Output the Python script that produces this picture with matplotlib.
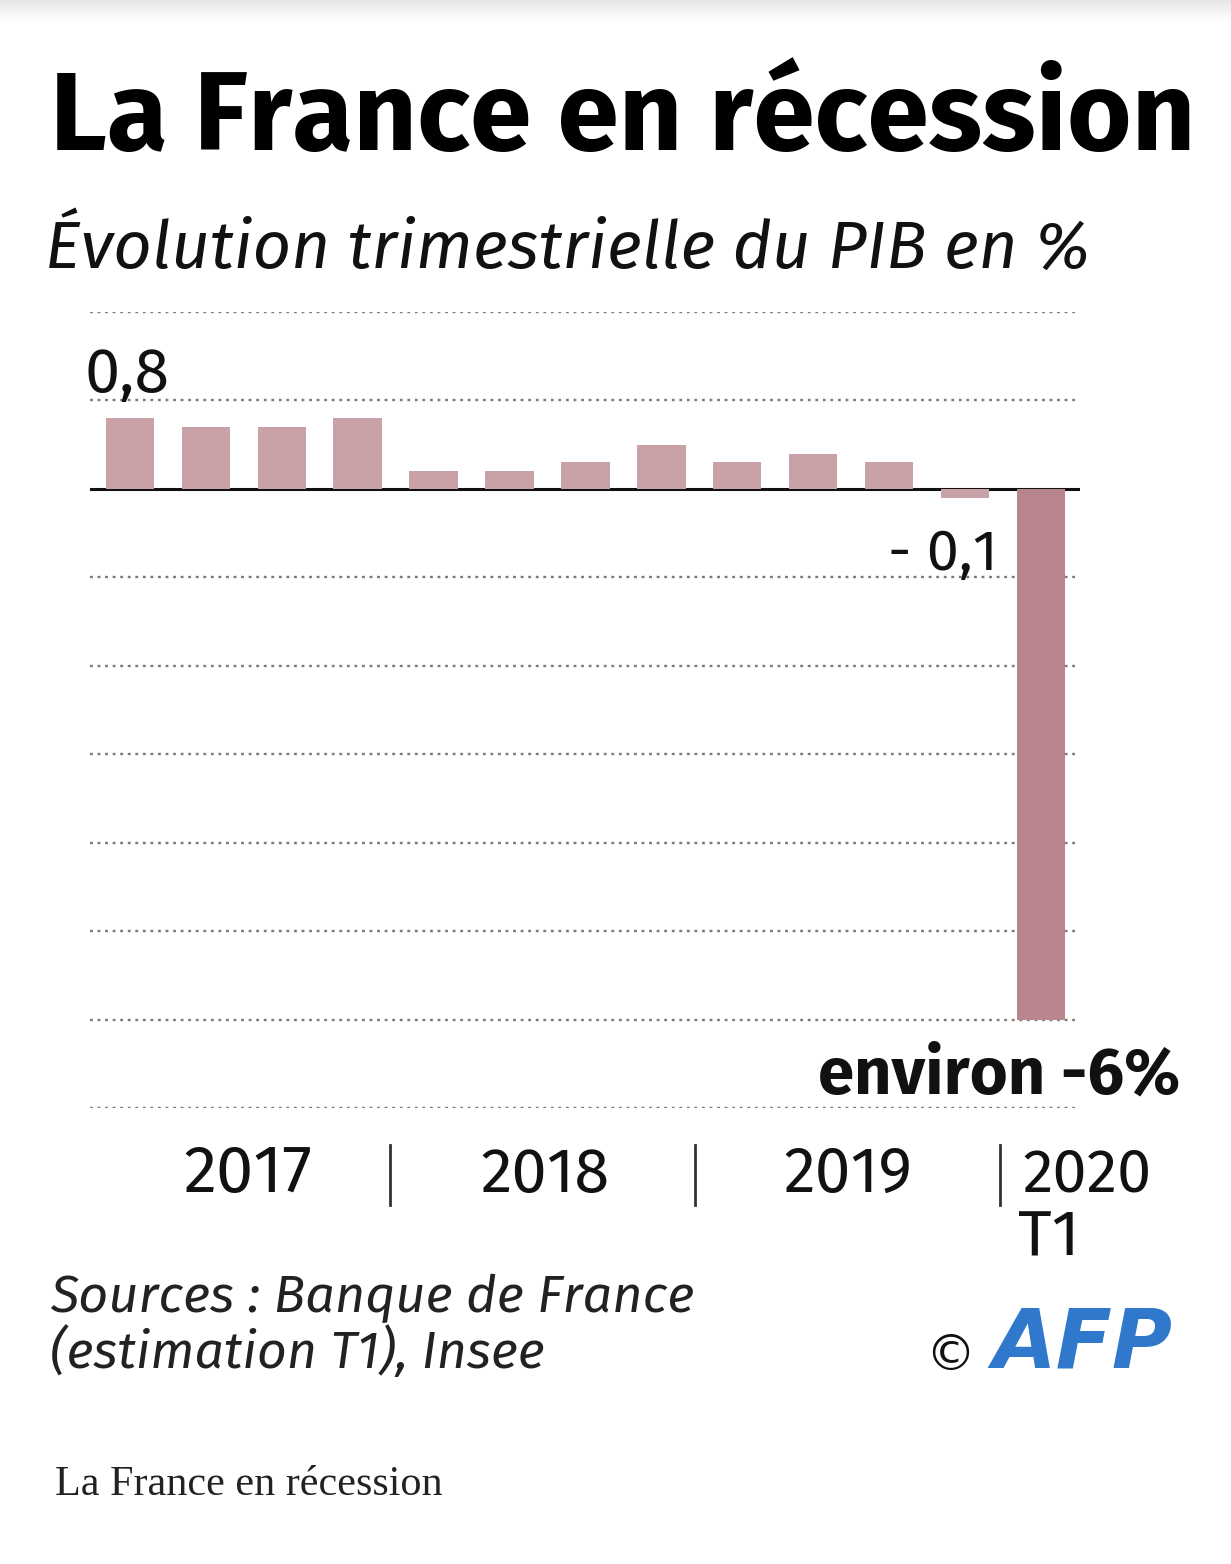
import numpy as np
import matplotlib
matplotlib.use("Agg")
import matplotlib.pyplot as plt
from matplotlib import font_manager

# data: quarterly GDP change in %
quarters = ["2017T1", "2017T2", "2017T3", "2017T4",
            "2018T1", "2018T2", "2018T3", "2018T4",
            "2019T1", "2019T2", "2019T3", "2019T4",
            "2020T1"]
values = [0.8, 0.7, 0.7, 0.8, 0.2, 0.2, 0.3, 0.5, 0.3, 0.4, 0.3, -0.1, -6.0]
year_labels = ["2017", "2018", "2019", "2020"]
grid_levels = [2, 1, -1, -2, -3, -4, -5, -6, -7]

W, H = 1231, 1564
fig = plt.figure(figsize=(W / 100, H / 100), dpi=100)
fig.patch.set_facecolor("white")
renderer = fig.canvas.get_renderer()

faces = {}
for f in font_manager.fontManager.ttflist:
    faces.setdefault(f.name, set()).add((f.style, f.weight))


def pick(*cands):
    # first family that has a static regular and bold upright face
    for c in cands:
        ws = faces.get(c, set())
        if ("normal", 400) in ws and ("normal", 700) in ws:
            return [c, "DejaVu Sans"]
    return ["DejaVu Sans"]


humanist = pick("Fira Sans", "Open Sans", "Lato")
serif = pick("Liberation Serif", "DejaVu Serif")


def px(x, y):
    return x / W, 1 - y / H


def fit_text(x, y, s, width, size=40, ha="left", **kw):
    # place text with baseline at pixel y, scaled so it spans `width` px
    t = fig.text(*px(x, y), s, fontsize=size, ha=ha, va="baseline", **kw)
    w = t.get_window_extent(renderer).width
    t.set_fontsize(size * width / w)
    return t


# faint shadow band at the very top
shade = fig.add_axes([0, 1 - 22 / H, 1, 22 / H])
shade.imshow(np.linspace(0.90, 1.0, 50)[:, None], cmap="gray", vmin=0, vmax=1,
             aspect="auto", extent=[0, 1, 0, 1], origin="upper")
shade.axis("off")

# axes: x from 90 to 1080 px, y from +2 (312 px) to -7 (1108 px)
left, top = px(90, 312)
right, bottom = px(1080, 1108)
ax = fig.add_axes([left, bottom, right - left, top - bottom])
step = 75.9
ax.set_xlim((90 - 130) / step, (1080 - 130) / step)
ax.set_ylim(-7, 2)
ax.axis("off")

xpos = np.arange(len(values))
x0, x1 = ax.get_xlim()
for g in grid_levels:
    ax.plot([x0, x1 - 0.06], [g, g], ls=(0, (1.2, 2.0)),
            color="#7a7a7a", lw=1.7, zorder=1)
ax.axhline(0, color="#111111", lw=2.2, zorder=2)

colors = ["#c9a2a7"] * (len(values) - 1) + ["#b7858b"]
ax.bar(xpos, values, width=0.64, color=colors, zorder=3)

# value annotations
fit_text(85, 392, "0,8", 85, family=humanist, color="#111111")
fit_text(888, 570, "- 0,1", 110, family=humanist, color="#111111")
fit_text(818, 1093, "environ -6%", 362, family=humanist, fontweight="bold",
         color="#111111")

# title and subtitle
fit_text(50, 150, "La France en récession", 1145, family=humanist,
         fontweight="bold", color="#000000")
fit_text(45, 268, "Évolution trimestrielle du PIB en %", 1045, family=humanist,
         style="italic", color="#111111")

# year labels and separators
for xl, lab in zip([183, 480, 783, 1022], year_labels):
    fit_text(xl, 1192, lab, 129, family=humanist, color="#111111")
fit_text(1018, 1256, "T1", 62, family=humanist, color="#111111")
for xs in [390, 695, 1000]:
    fig.add_artist(plt.Line2D([xs / W, xs / W], [1 - 1145 / H, 1 - 1205 / H],
                              color="#333333", lw=2))

# sources
fit_text(50, 1312, "Sources : Banque de France", 645, family=humanist,
         style="italic", color="#222222")
fit_text(50, 1368, "(estimation T1), Insee", 495, family=humanist,
         style="italic", color="#222222")

# AFP logo
fit_text(925, 1370, "©", 50, family=["DejaVu Sans"], color="#111111")
fit_text(992, 1368, "AFP", 180, family=["DejaVu Sans"], fontweight="heavy",
         style="italic", color="#2f78cc")

# caption
fit_text(55, 1495, "La France en récession", 387, family=serif, color="#222222")

fig.savefig("out.png", dpi=100, facecolor="white")
